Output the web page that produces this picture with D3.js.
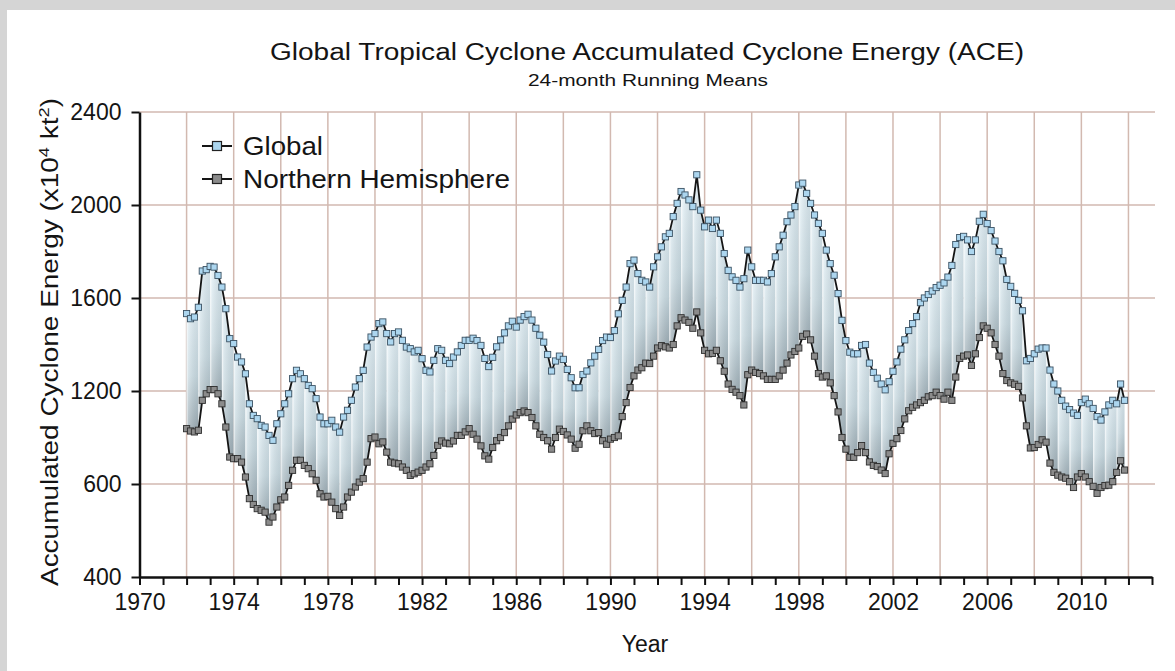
<!DOCTYPE html>
<html>
<head>
<meta charset="utf-8">
<script src="https://cdnjs.cloudflare.com/ajax/libs/d3/7.8.5/d3.min.js"></script>
<style>
  body { margin: 0; background: #d5d5d5; }
  svg { display: block; }
  text { font-family: "Liberation Sans", Arial, sans-serif; fill: #141414; }
</style>
</head>
<body>
<svg id="chart"></svg>
<script>
// 24-month running means, one value every two months starting Jan 1972
const startYear = 1972;
const stepsPerYear = 6;

const globalAce = [
  1533, 1511, 1518, 1560, 1716, 1722,
  1736, 1733, 1697, 1647, 1554, 1425,
  1404, 1346, 1325, 1274, 1145, 1095,
  1081, 1052, 1045, 1009, 988, 1059,
  1102, 1145, 1188, 1253, 1289, 1274,
  1253, 1224, 1210, 1167, 1088, 1059,
  1059, 1074, 1045, 1023, 1088, 1117,
  1160, 1217, 1253, 1289, 1389, 1432,
  1447, 1490, 1497, 1447, 1411, 1447,
  1454, 1418, 1389, 1382, 1368, 1375,
  1339, 1289, 1282, 1332, 1382, 1375,
  1332, 1318, 1346, 1368, 1396, 1418,
  1418, 1427, 1417, 1396, 1340, 1305,
  1345, 1390, 1420, 1450, 1480, 1500,
  1475, 1505, 1520, 1530, 1505, 1470,
  1440, 1410, 1357, 1286, 1329, 1350,
  1336, 1293, 1257, 1214, 1214, 1271,
  1286, 1321, 1350, 1379, 1417, 1432,
  1430, 1460, 1532, 1590, 1647, 1748,
  1763, 1705, 1676, 1669, 1647, 1734,
  1777, 1820, 1863, 1878, 1950, 2007,
  2058, 2043, 2022, 1993, 2130, 1978,
  1906, 1935, 1899, 1935, 1878, 1791,
  1719, 1691, 1676, 1647, 1683, 1806,
  1734, 1676, 1676, 1676, 1669, 1705,
  1777, 1820, 1870, 1928, 1957, 1993,
  2086, 2094, 2050, 2007, 1957, 1921,
  1878, 1806, 1748, 1698, 1619, 1504,
  1417, 1367, 1360, 1360, 1396, 1400,
  1320, 1280, 1255, 1230, 1205, 1240,
  1285, 1325, 1380, 1420, 1460, 1490,
  1520, 1580, 1600, 1615, 1630, 1645,
  1655, 1665, 1690, 1740, 1830, 1860,
  1865, 1850, 1800, 1850, 1930, 1960,
  1920, 1890, 1845, 1800, 1760, 1680,
  1650, 1620, 1590, 1545, 1330, 1340,
  1360, 1380, 1385, 1385, 1290, 1230,
  1200, 1160, 1135, 1120, 1105, 1095,
  1150, 1165, 1145, 1125, 1090, 1075,
  1110, 1140, 1160, 1145, 1230, 1160
];

const nhAce = [
  1038, 1028, 1024, 1031, 1160, 1188,
  1206, 1206, 1188, 1145, 1045, 916,
  909, 909, 894, 830, 737, 712,
  694, 687, 679, 636, 658, 701,
  732, 744, 794, 859, 902, 902,
  880, 866, 844, 816, 758, 744,
  747, 722, 694, 665, 701, 744,
  765, 787, 808, 823, 894, 995,
  1002, 973, 981, 937, 894, 890,
  887, 873, 859, 837, 844, 851,
  859, 873, 887, 923, 966, 985,
  976, 973, 985, 1009, 1009, 1024,
  1038, 1014, 993, 964, 921, 907,
  957, 986, 1000, 1021, 1050, 1079,
  1097, 1107, 1114, 1107, 1086, 1050,
  1014, 1000, 986, 950, 1000, 1036,
  1026, 1011, 993, 954, 971, 1029,
  1050, 1029, 1017, 1021, 986, 971,
  993, 1000, 1007, 1090, 1150, 1215,
  1265, 1290, 1300, 1320, 1318, 1350,
  1385, 1395, 1390, 1385, 1400, 1480,
  1515, 1505, 1495, 1470, 1540, 1450,
  1375, 1360, 1362, 1375, 1330, 1285,
  1230, 1207, 1195, 1180, 1140, 1270,
  1290, 1280, 1275, 1265, 1250, 1250,
  1250, 1265, 1290, 1320, 1355, 1370,
  1385, 1435, 1445, 1420, 1350, 1275,
  1260, 1265, 1235, 1180, 1110, 1000,
  950, 915, 915, 935, 965, 935,
  895, 880, 875, 860, 845, 930,
  975, 995, 1030, 1080, 1115, 1130,
  1140, 1150, 1160, 1175, 1180, 1195,
  1180, 1165, 1195, 1160, 1260, 1340,
  1350, 1355, 1310, 1360, 1430, 1480,
  1470, 1450, 1400, 1350, 1275, 1245,
  1235, 1229, 1220, 1170, 1050, 955,
  957, 970, 990, 980, 890, 850,
  838, 830, 825, 810, 785, 830,
  845, 830, 810, 790, 760, 785,
  793, 795, 810, 850, 900, 860
];

// axis values as printed on the original (the 800 line is labelled "600" there)
const yTickValues = [400, 800, 1200, 1600, 2000, 2400];
const yTickLabels = ["400", "600", "1200", "1600", "2000", "2400"];
const xLabelYears = [1970, 1974, 1978, 1982, 1986, 1990, 1994, 1998, 2002, 2006, 2010];
const legendLabels = ["Global", "Northern Hemisphere"];

const W = 1175, H = 671;
const margin = { top: 112, right: 23, bottom: 94, left: 139.5 };

const svg = d3.select("#chart").attr("width", W).attr("height", H);

// white panel on grey page
svg.append("rect")
  .attr("x", 7).attr("y", 10)
  .attr("width", W - 7).attr("height", H - 10)
  .attr("fill", "#fff");

const x = d3.scaleLinear().domain([1970, 2013]).range([margin.left, W - margin.right]);
const y = d3.scaleLinear().domain([400, 2400]).range([H - margin.bottom, margin.top]);

const rows = globalAce.map((g, i) => ({ t: startYear + i / stepsPerYear, g: g, n: nhAce[i] }));

// gradients for the shaded band between the two series
const defs = svg.append("defs");
const band = defs.append("linearGradient").attr("id", "band")
  .attr("x1", 0).attr("y1", 0).attr("x2", 0).attr("y2", 1);
band.append("stop").attr("offset", "0%").attr("stop-color", "#e2eff5");
band.append("stop").attr("offset", "55%").attr("stop-color", "#c9dae1");
band.append("stop").attr("offset", "100%").attr("stop-color", "#97a6ae");

const shade = defs.append("linearGradient").attr("id", "shade")
  .attr("x1", 0).attr("y1", 0).attr("x2", 1).attr("y2", 0);
shade.append("stop").attr("offset", "0%").attr("stop-color", "#fff").attr("stop-opacity", 0.85);
shade.append("stop").attr("offset", "16%").attr("stop-color", "#fff").attr("stop-opacity", 0.25);
shade.append("stop").attr("offset", "100%").attr("stop-color", "#6f7f88").attr("stop-opacity", 0.15);

// grid
const grid = svg.append("g").attr("stroke", "#d2b9b0").attr("stroke-width", 1.5);
grid.selectAll(".hgrid")
  .data(yTickValues.slice(1))
  .enter()
  .append("line")
  .attr("x1", x(1970)).attr("x2", x(2013) + 3)
  .attr("y1", (d) => y(d)).attr("y2", (d) => y(d));
grid.selectAll(".vgrid")
  .data(d3.range(1972, 2013, 2))
  .enter()
  .append("line")
  .attr("x1", (d) => x(d)).attr("x2", (d) => x(d))
  .attr("y1", y(400)).attr("y2", y(2400));

// band between NH and global, split into half-year strips
const area = d3.area()
  .x((d) => x(d.t))
  .y0((d) => y(d.n))
  .y1((d) => y(d.g));

const strips = [];
for (let k = 0; k < rows.length - 1; k += 3) {
  strips.push(rows.slice(k, Math.min(k + 4, rows.length)));
}
const bandG = svg.append("g");
bandG.selectAll(".strip")
  .data(strips)
  .enter()
  .append("path")
  .attr("d", area)
  .attr("fill", "url(#band)");
bandG.selectAll(".shade")
  .data(strips)
  .enter()
  .append("path")
  .attr("d", area)
  .attr("fill", "url(#shade)");

// series lines
const lineG = d3.line().x((d) => x(d.t)).y((d) => y(d.g));
const lineN = d3.line().x((d) => x(d.t)).y((d) => y(d.n));
svg.append("path").attr("d", lineN(rows))
  .attr("fill", "none").attr("stroke", "#151515").attr("stroke-width", 1.8);
svg.append("path").attr("d", lineG(rows))
  .attr("fill", "none").attr("stroke", "#151515").attr("stroke-width", 1.8);

// markers
const ms = 6.2;
svg.append("g").selectAll("rect")
  .data(rows)
  .enter()
  .append("rect")
  .attr("x", (d) => x(d.t) - ms / 2)
  .attr("y", (d) => y(d.n) - ms / 2)
  .attr("width", ms).attr("height", ms)
  .attr("fill", "#8b8b8b").attr("stroke", "#2e2e2e").attr("stroke-width", 0.9);
svg.append("g").selectAll("rect")
  .data(rows)
  .enter()
  .append("rect")
  .attr("x", (d) => x(d.t) - ms / 2)
  .attr("y", (d) => y(d.g) - ms / 2)
  .attr("width", ms).attr("height", ms)
  .attr("fill", "#acd6ef").attr("stroke", "#3b5263").attr("stroke-width", 0.9);

// axes
const xAxis = svg.append("g")
  .attr("transform", `translate(0,${y(400)})`)
  .call(
    d3.axisBottom(x)
      .tickValues(d3.range(1970, 2014))
      .tickFormat((d) => (xLabelYears.includes(d) ? d : ""))
      .tickSize(8)
      .tickSizeOuter(0)
      .tickPadding(9)
  );
xAxis.select(".domain").attr("stroke", "#111").attr("stroke-width", 2.5);
xAxis.selectAll(".tick line").attr("stroke", "#111").attr("stroke-width", 2);
xAxis.selectAll(".tick text").attr("font-size", 23).attr("fill", "#141414")
  .attr("font-family", "Liberation Sans, Arial, sans-serif");

const yAxis = svg.append("g")
  .attr("transform", `translate(${x(1970)},0)`)
  .call(
    d3.axisLeft(y)
      .tickValues(yTickValues)
      .tickFormat((d, i) => yTickLabels[i])
      .tickSize(8)
      .tickSizeOuter(0)
      .tickPadding(10)
  );
yAxis.select(".domain").attr("stroke", "#111").attr("stroke-width", 2.5);
yAxis.selectAll(".tick line").attr("stroke", "#111").attr("stroke-width", 2);
yAxis.selectAll(".tick text").attr("font-size", 23).attr("fill", "#141414")
  .attr("font-family", "Liberation Sans, Arial, sans-serif");

// titles
svg.append("text")
  .attr("x", 647).attr("y", 60)
  .attr("text-anchor", "middle")
  .attr("font-size", 23)
  .attr("textLength", 754).attr("lengthAdjust", "spacingAndGlyphs")
  .text("Global Tropical Cyclone Accumulated Cyclone Energy (ACE)");
svg.append("text")
  .attr("x", 648).attr("y", 86)
  .attr("text-anchor", "middle")
  .attr("font-size", 16)
  .attr("textLength", 240).attr("lengthAdjust", "spacingAndGlyphs")
  .text("24-month Running Means");

svg.append("text")
  .attr("x", 645).attr("y", 652)
  .attr("text-anchor", "middle")
  .attr("font-size", 23)
  .text("Year");

const yTitle = svg.append("text")
  .attr("transform", "translate(58,342) rotate(-90)")
  .attr("text-anchor", "middle")
  .attr("font-size", 23)
  .attr("textLength", 488).attr("lengthAdjust", "spacingAndGlyphs");
yTitle.append("tspan").text("Accumulated Cyclone Energy (x10");
yTitle.append("tspan").attr("dy", -9).attr("font-size", 15).text("4");
yTitle.append("tspan").attr("dy", 9).text(" kt");
yTitle.append("tspan").attr("dy", -9).attr("font-size", 15).text("2");
yTitle.append("tspan").attr("dy", 9).text(")");

// legend
const legend = svg.append("g").attr("transform", "translate(202,146)");
const legendFills = ["#acd6ef", "#8b8b8b"];
const legendWidths = [80, 267];
legendLabels.forEach((label, i) => {
  const row = legend.append("g").attr("transform", `translate(0,${i * 33})`);
  row.append("line").attr("x1", 0).attr("x2", 30).attr("y1", 0).attr("y2", 0)
    .attr("stroke", "#151515").attr("stroke-width", 2);
  row.append("rect").attr("x", 10.5).attr("y", -4.5).attr("width", 9).attr("height", 9)
    .attr("fill", legendFills[i]).attr("stroke", "#222").attr("stroke-width", 1.2);
  row.append("text").attr("x", 41).attr("y", 9)
    .attr("font-size", 25)
    .attr("textLength", legendWidths[i]).attr("lengthAdjust", "spacingAndGlyphs")
    .text(label);
});
</script>
</body>
</html>
